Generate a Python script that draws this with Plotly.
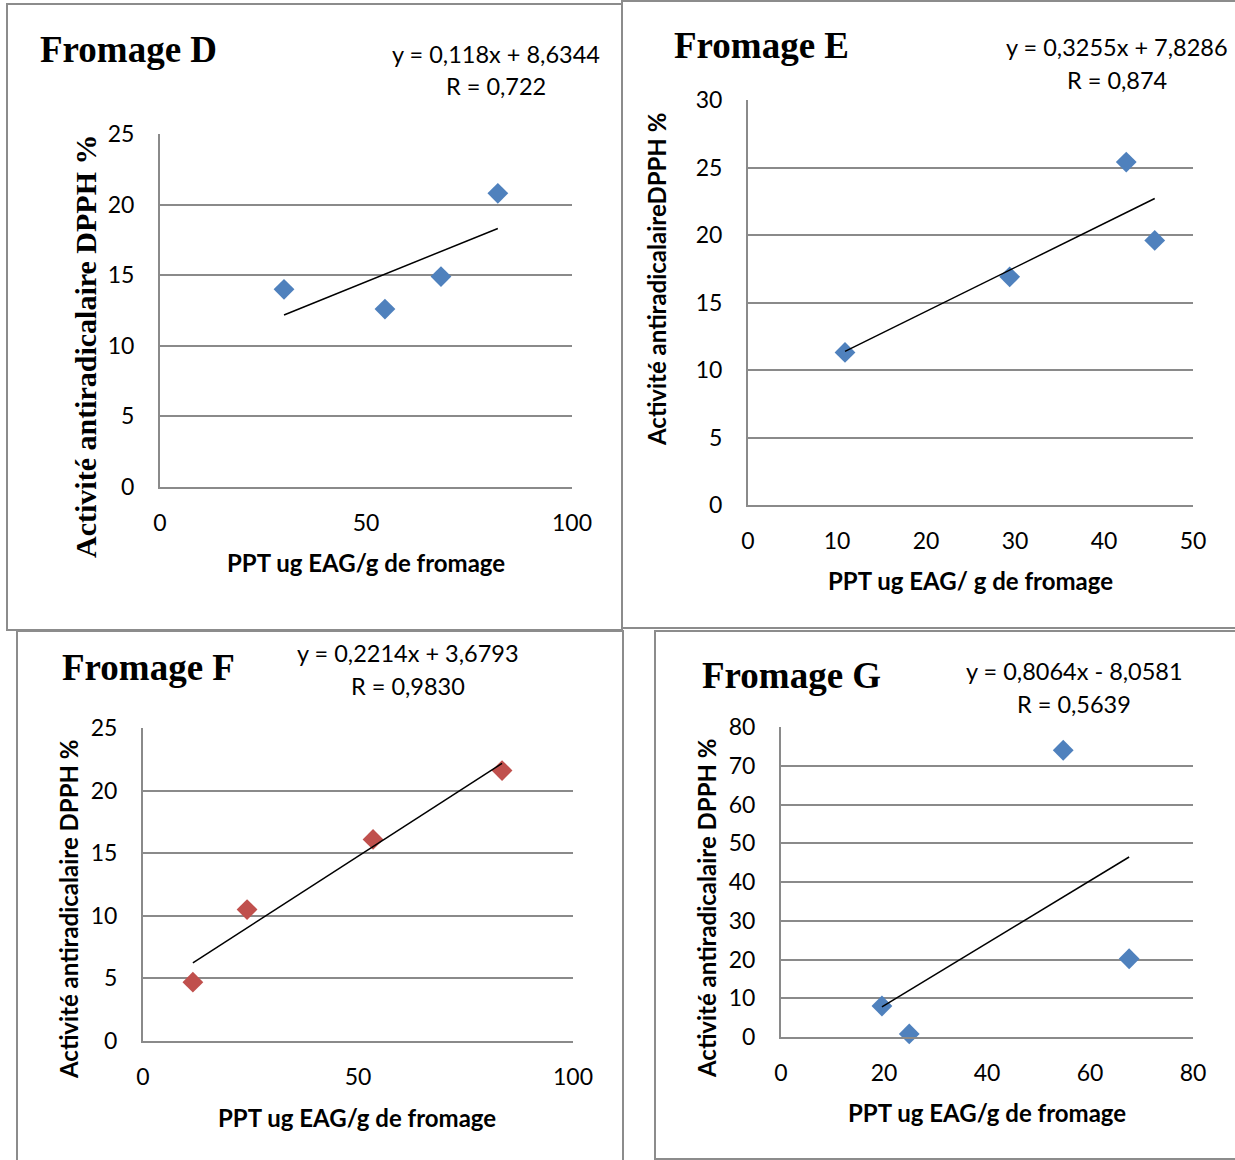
import plotly.graph_objects as go

# ---- data: phenolic content (PPT) vs DPPH antiradical activity ----
d_ppt = [30.1, 54.6, 68.2, 82.0]
d_dpph = [14.0, 12.6, 14.9, 20.8]
d_slope, d_intercept = 0.118, 8.6344
d_eq = ["y = 0,118x + 8,6344", "R = 0,722"]

e_ppt = [10.9, 29.4, 42.5, 45.7]
e_dpph = [11.3, 16.9, 25.4, 19.6]
e_slope, e_intercept = 0.3255, 7.8286
e_eq = ["y = 0,3255x + 7,8286", "R = 0,874"]

f_ppt = [11.6, 24.2, 53.5, 83.5]
f_dpph = [4.7, 10.5, 16.1, 21.6]
f_slope, f_intercept = 0.2214, 3.6793
f_eq = ["y = 0,2214x + 3,6793", "R = 0,9830"]

g_ppt = [19.6, 24.9, 54.8, 67.6]
g_dpph = [8.0, 0.8, 74.0, 20.2]
g_slope, g_intercept = 0.8064, -8.0581
g_eq = ["y = 0,8064x - 8,0581", "R = 0,5639"]

titles = ["Fromage D", "Fromage E", "Fromage F", "Fromage G"]
x_titles = ["PPT ug EAG/g de fromage", "PPT ug EAG/ g de fromage",
            "PPT ug EAG/g de fromage", "PPT ug EAG/g de fromage"]
y_titles = ["Activité antiradicalaire DPPH %", "Activité antiradicalaireDPPH %",
            "Activité antiradicalaire DPPH %", "Activité antiradicalaire DPPH %"]
x_ranges = [(0, 100, 50), (0, 50, 10), (0, 100, 50), (0, 80, 20)]
y_ranges = [(0, 25, 5), (0, 30, 5), (0, 25, 5), (0, 80, 10)]

W, H = 1235, 1160
BLUE = "#4F81BD"
RED = "#C0504D"
GRID = "#8A8A8A"
SANS = "Lato, 'Open Sans', sans-serif"
SERIF = "'Liberation Serif', 'Times New Roman', serif"


def px(x):
    return x / W


def py(y):
    return 1 - y / H


# panel layout in pixels: plot box (left, right, top, bottom), frame, text anchors
panels = [
    dict(plot=(160, 572, 134, 487), frame=(7, 622, 4, 630),
         title=(38, 49), eq=(496, 54, 86), xt=(366, 562), yt=(85, 346),
         yt_font=SERIF, color=BLUE),
    dict(plot=(748, 1193, 100, 505), frame=(622, 1240, 1, 628),
         title=(672, 45), eq=(1117, 47, 80), xt=(970, 580), yt=(656, 280),
         yt_font=SANS, color=BLUE),
    dict(plot=(143, 573, 728, 1041), frame=(17, 623, 631, 1165),
         title=(60, 667), eq=(408, 653, 686), xt=(357, 1117), yt=(68, 909),
         yt_font=SANS, color=RED),
    dict(plot=(781, 1193, 727, 1037), frame=(655, 1240, 631, 1159),
         title=(700, 675), eq=(1074, 671, 704), xt=(987, 1112), yt=(706, 908),
         yt_font=SANS, color=BLUE),
]

series = [
    (d_ppt, d_dpph, d_slope, d_intercept, d_eq),
    (e_ppt, e_dpph, e_slope, e_intercept, e_eq),
    (f_ppt, f_dpph, f_slope, f_intercept, f_eq),
    (g_ppt, g_dpph, g_slope, g_intercept, g_eq),
]

fig = go.Figure()
layout = dict(
    width=W, height=H, margin=dict(l=0, r=0, t=0, b=0, pad=0),
    paper_bgcolor="white", plot_bgcolor="white", showlegend=False,
    annotations=[], shapes=[],
)

for i, (p, (xs, ys, m, b, eq)) in enumerate(zip(panels, series)):
    n = "" if i == 0 else str(i + 1)
    xa, ya = "x" + n, "y" + n
    l, r, t, bt = p["plot"]

    # measured points
    fig.add_trace(go.Scatter(
        x=xs, y=ys, mode="markers", xaxis=xa, yaxis=ya, cliponaxis=False,
        marker=dict(symbol="diamond", size=16, color=p["color"],
                    line=dict(width=0)),
    ))
    # linear trend line from the stated equation
    x0, x1 = min(xs), max(xs)
    fig.add_trace(go.Scatter(
        x=[x0, x1], y=[m * x0 + b, m * x1 + b], mode="lines",
        xaxis=xa, yaxis=ya, line=dict(color="black", width=1.5),
    ))

    xr, yr = x_ranges[i], y_ranges[i]
    layout["xaxis" + n] = dict(
        domain=[px(l), px(r)], range=[xr[0], xr[1]], dtick=xr[2], tick0=0,
        anchor=ya, showgrid=False, zeroline=False, automargin=False,
        showline=True, linecolor=GRID, linewidth=2,
        ticks="outside", ticklen=14, tickcolor="rgba(0,0,0,0)",
        tickfont=dict(family=SANS, size=23, color="black"),
    )
    layout["yaxis" + n] = dict(
        domain=[py(bt), py(t)], range=[yr[0], yr[1]], dtick=yr[2], tick0=0,
        anchor=xa, showgrid=True, gridcolor=GRID, gridwidth=2, zeroline=False,
        showline=True, linecolor=GRID, linewidth=2, automargin=False,
        ticks="outside", ticklen=19, tickcolor="rgba(0,0,0,0)",
        tickfont=dict(family=SANS, size=23, color="black"),
    )

    # frame around each chart
    fl, fr, ft, fb = p["frame"]
    layout["shapes"].append(dict(
        type="rect", xref="paper", yref="paper",
        x0=px(fl), x1=px(fr), y0=py(fb), y1=py(ft),
        line=dict(color="#8C8C8C", width=2), fillcolor="rgba(0,0,0,0)",
        layer="below",
    ))

    # chart title
    tx, ty = p["title"]
    layout["annotations"].append(dict(
        text="<b>%s</b>" % titles[i], xref="paper", yref="paper",
        x=px(tx), y=py(ty), xanchor="left", yanchor="middle", showarrow=False,
        font=dict(family=SERIF, size=37, color="black"),
    ))
    # trend equation and R
    ex, ey1, ey2 = p["eq"]
    for txt, yy in zip(eq, (ey1, ey2)):
        layout["annotations"].append(dict(
            text=txt, xref="paper", yref="paper", x=px(ex), y=py(yy),
            xanchor="center", yanchor="middle", showarrow=False,
            font=dict(family=SANS, size=23.5, color="black"),
        ))
    # axis titles
    xx, xy = p["xt"]
    layout["annotations"].append(dict(
        text="<b>%s</b>" % x_titles[i], xref="paper", yref="paper",
        x=px(xx), y=py(xy), xanchor="center", yanchor="middle",
        showarrow=False, font=dict(family=SANS, size=24, color="black"),
    ))
    yx, yy = p["yt"]
    layout["annotations"].append(dict(
        text="<b>%s</b>" % y_titles[i], xref="paper", yref="paper",
        x=px(yx), y=py(yy), xanchor="center", yanchor="middle",
        textangle=-90, showarrow=False,
        font=dict(family=p["yt_font"], size=30 if i == 0 else 24,
                  color="black"),
    ))

fig.update_layout(**layout)
fig.write_html("out.html")
